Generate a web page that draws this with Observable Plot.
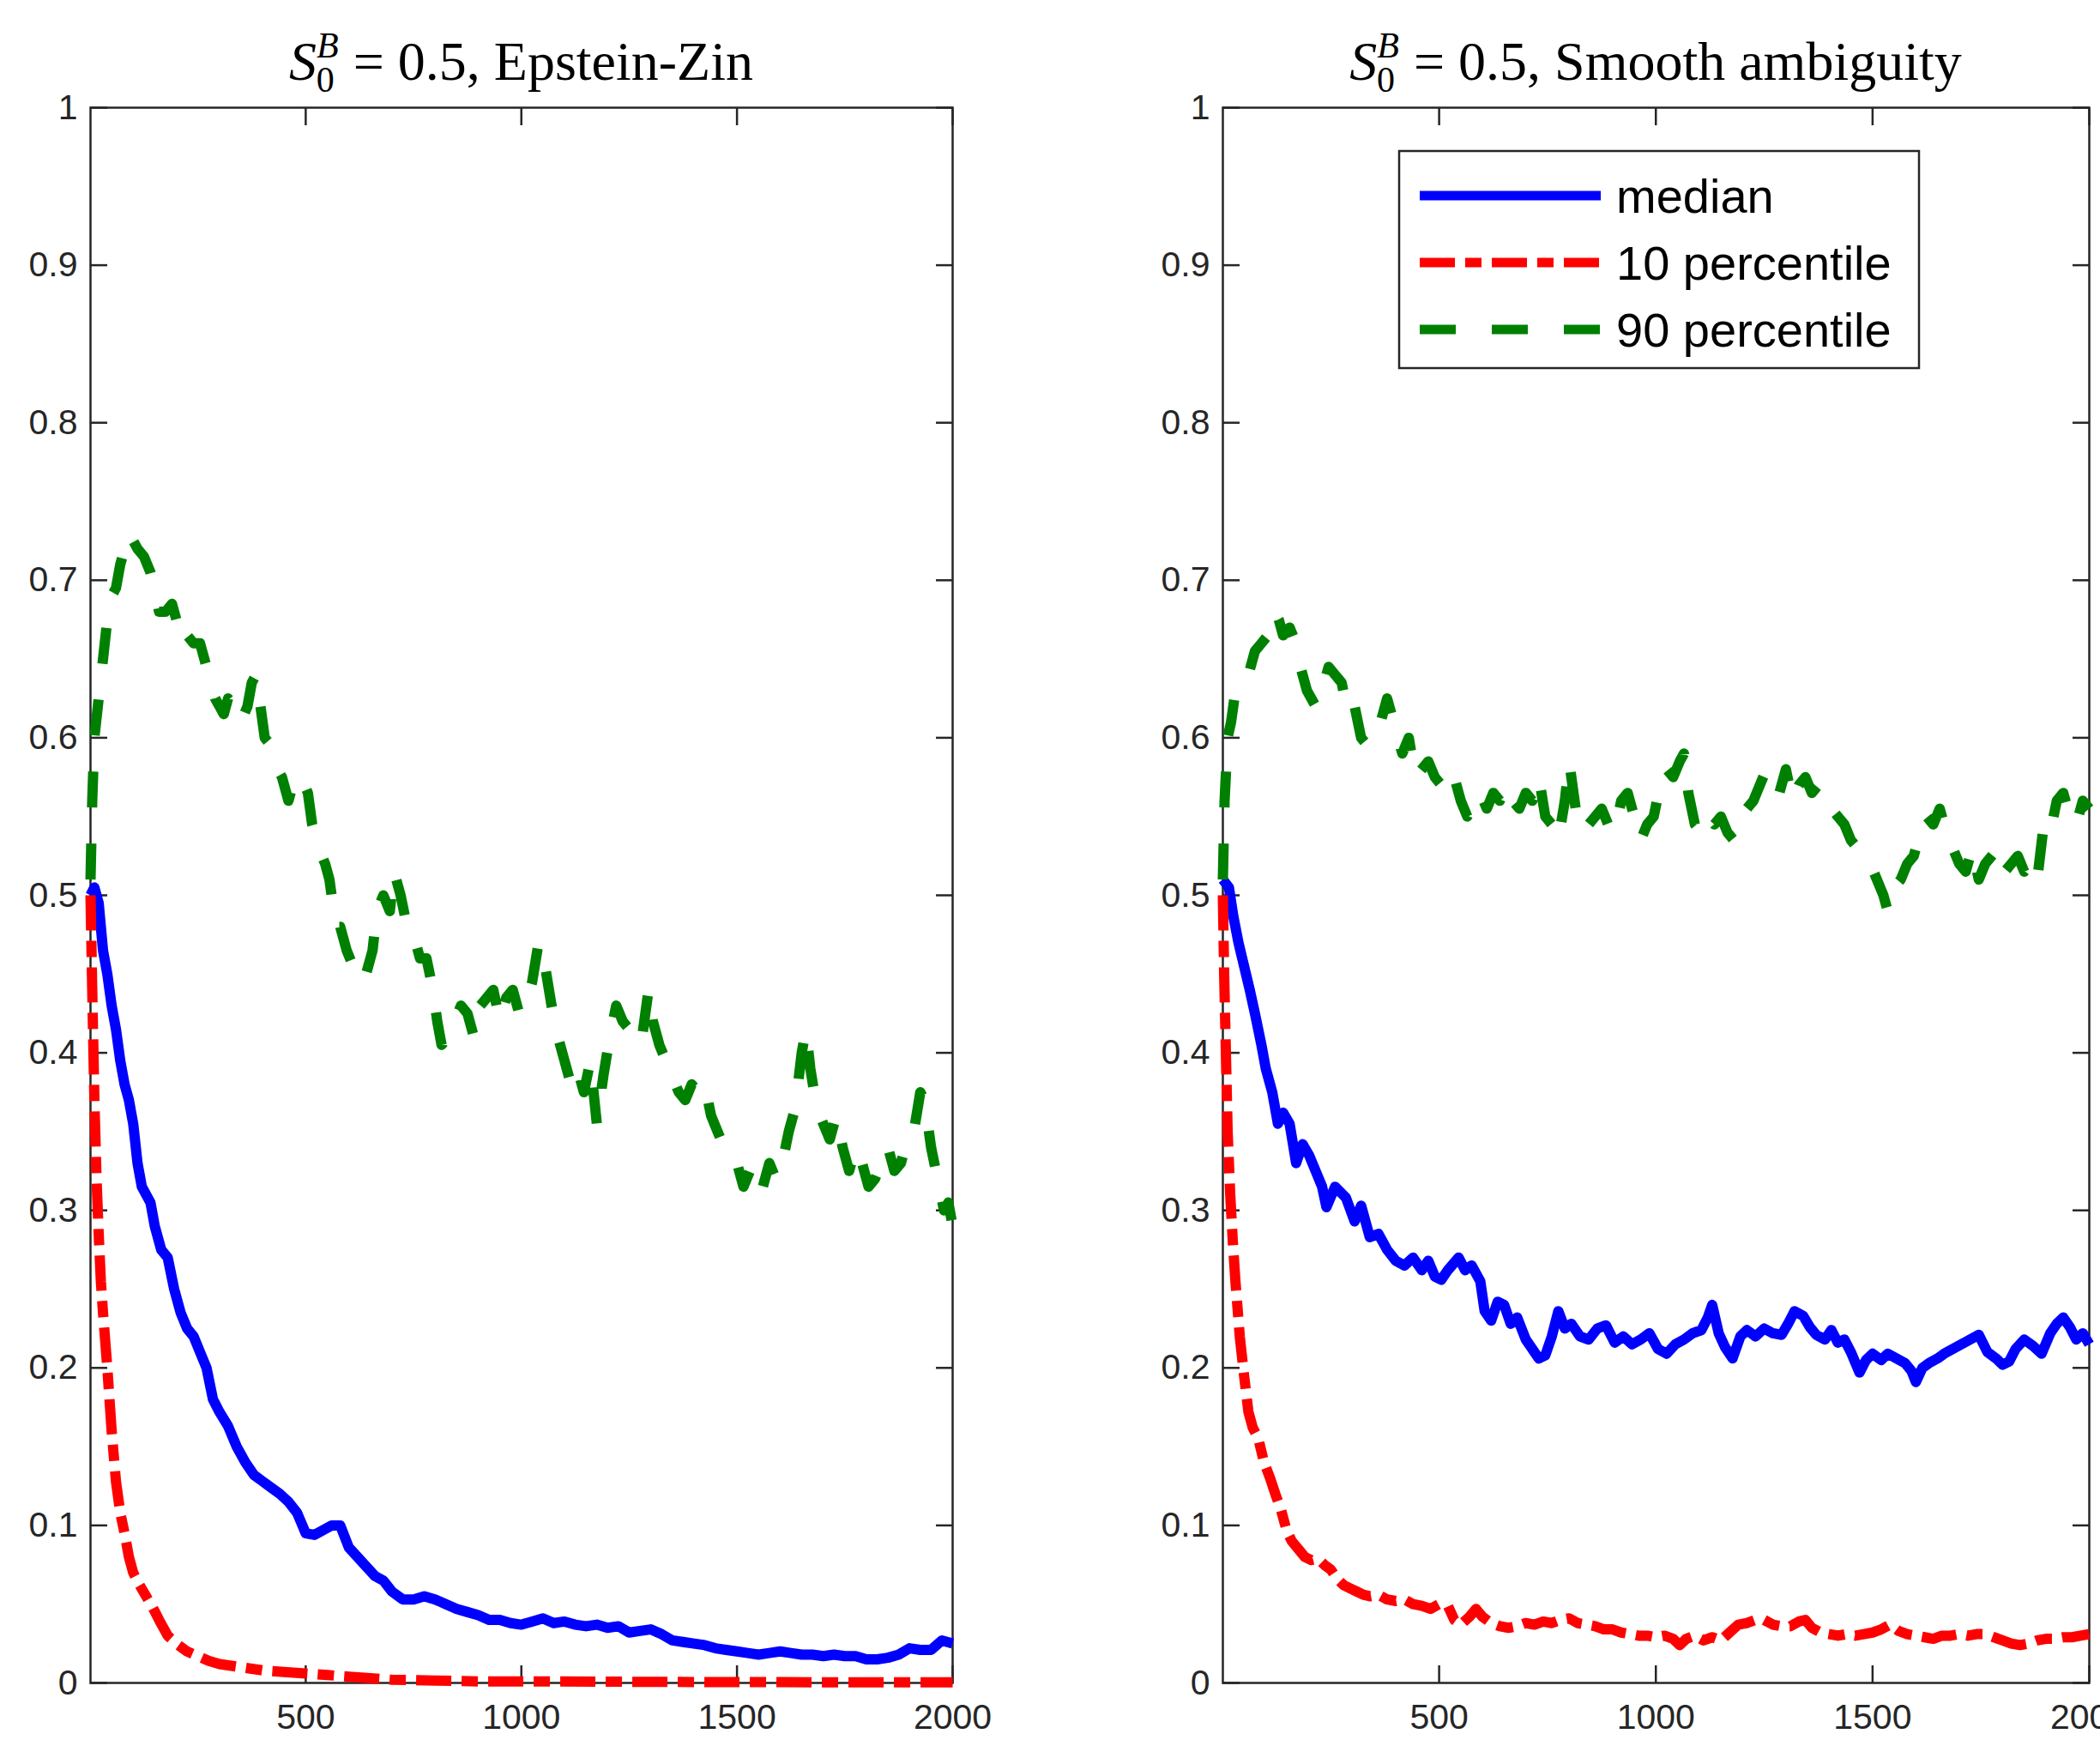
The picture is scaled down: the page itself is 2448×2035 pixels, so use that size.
<!DOCTYPE html>
<html><head><meta charset="utf-8">
<script src="https://cdn.jsdelivr.net/npm/d3@7"></script>
<script src="https://cdn.jsdelivr.net/npm/@observablehq/plot@0.6"></script>
<style>
html,body{margin:0;padding:0;background:#fff;width:2448px;height:2035px;overflow:hidden;}
#left,#right{position:absolute;top:0;}
#left{left:0;} #right{left:1224px;}
</style></head><body>
<div id="left"></div><div id="right"></div>
<script>
// ---- tick labels / categories ----
const xTicks = [500, 1000, 1500, 2000];
const yTicks = [0, 0.1, 0.2, 0.3, 0.4, 0.5, 0.6, 0.7, 0.8, 0.9, 1];
const titleRest = [" = 0.5, Epstein-Zin", " = 0.5, Smooth ambiguity"];
const legendLabels = ["median", "10 percentile", "90 percentile"];

// ---- Epstein-Zin panel: [period, value] ----
const ezMedian = [[1,0.50],[10,0.505],[20,0.495],[30,0.465],[40,0.45],[50,0.43],[60,0.415],[70,0.395],[80,0.38],[90,0.37],[100,0.355],[110,0.33],[120,0.315],[130,0.31],[140,0.305],[150,0.29],[165,0.275],[180,0.27],[195,0.25],[210,0.235],[225,0.225],[240,0.22],[255,0.21],[270,0.2],[285,0.18],[300,0.172],[320,0.163],[340,0.15],[360,0.14],[380,0.132],[400,0.128],[420,0.124],[440,0.12],[460,0.115],[480,0.108],[500,0.095],[520,0.094],[540,0.097],[560,0.1],[580,0.1],[600,0.086],[620,0.08],[640,0.074],[660,0.068],[680,0.065],[700,0.058],[725,0.053],[750,0.053],[775,0.055],[800,0.053],[825,0.05],[850,0.047],[875,0.045],[900,0.043],[925,0.04],[950,0.04],[975,0.038],[1000,0.037],[1025,0.039],[1050,0.041],[1075,0.038],[1100,0.039],[1125,0.037],[1150,0.036],[1175,0.037],[1200,0.035],[1225,0.036],[1250,0.032],[1275,0.033],[1300,0.034],[1325,0.031],[1350,0.027],[1375,0.026],[1400,0.025],[1425,0.024],[1450,0.022],[1475,0.021],[1500,0.02],[1525,0.019],[1550,0.018],[1575,0.019],[1600,0.02],[1625,0.019],[1650,0.018],[1675,0.018],[1700,0.017],[1725,0.018],[1750,0.017],[1775,0.017],[1800,0.015],[1825,0.015],[1850,0.016],[1875,0.018],[1900,0.022],[1925,0.021],[1950,0.021],[1975,0.027],[2000,0.025]];
const ezP10 = [[1,0.5],[5,0.44],[10,0.37],[15,0.32],[20,0.285],[25,0.255],[30,0.235],[40,0.2],[50,0.16],[60,0.128],[70,0.108],[80,0.095],[90,0.08],[100,0.07],[115,0.062],[130,0.055],[145,0.048],[160,0.04],[180,0.03],[200,0.025],[225,0.02],[250,0.017],[275,0.014],[300,0.012],[350,0.01],[400,0.008],[450,0.007],[500,0.006],[550,0.005],[600,0.004],[650,0.003],[700,0.002],[800,0.0015],[900,0.001],[1000,0.001],[1200,0.0008],[1400,0.0006],[1600,0.0005],[1800,0.0004],[2000,0.0004]];
const ezP90 = [[1,0.51],[5,0.56],[10,0.6],[20,0.625],[30,0.65],[40,0.675],[50,0.69],[60,0.695],[70,0.71],[80,0.72],[90,0.73],[100,0.725],[110,0.72],[125,0.715],[140,0.705],[150,0.695],[160,0.68],[175,0.68],[190,0.685],[200,0.675],[215,0.68],[225,0.665],[240,0.66],[255,0.66],[270,0.645],[280,0.635],[290,0.625],[300,0.62],[310,0.615],[320,0.625],[335,0.62],[350,0.61],[365,0.62],[375,0.635],[385,0.64],[395,0.62],[405,0.6],[420,0.595],[435,0.58],[445,0.575],[460,0.56],[475,0.575],[490,0.575],[505,0.565],[515,0.545],[530,0.53],[545,0.52],[555,0.51],[570,0.48],[580,0.48],[595,0.465],[610,0.455],[625,0.445],[640,0.45],[655,0.465],[665,0.49],[680,0.5],[695,0.49],[705,0.515],[720,0.5],[735,0.48],[750,0.475],[765,0.46],[780,0.46],[795,0.44],[805,0.42],[815,0.405],[830,0.41],[845,0.42],[860,0.43],[875,0.425],[890,0.41],[905,0.43],[920,0.435],[935,0.44],[950,0.42],[965,0.435],[980,0.44],[995,0.425],[1010,0.43],[1025,0.445],[1040,0.47],[1055,0.455],[1070,0.43],[1085,0.41],[1100,0.395],[1115,0.38],[1130,0.39],[1145,0.375],[1160,0.395],[1175,0.355],[1190,0.385],[1205,0.41],[1220,0.43],[1235,0.42],[1250,0.415],[1265,0.405],[1280,0.41],[1295,0.44],[1305,0.42],[1320,0.405],[1335,0.395],[1350,0.385],[1365,0.375],[1380,0.37],[1395,0.38],[1410,0.375],[1425,0.38],[1440,0.36],[1455,0.35],[1470,0.34],[1485,0.335],[1500,0.33],[1515,0.315],[1530,0.325],[1545,0.31],[1560,0.315],[1575,0.33],[1590,0.32],[1605,0.33],[1620,0.35],[1635,0.365],[1650,0.4],[1660,0.415],[1670,0.39],[1685,0.365],[1700,0.355],[1715,0.345],[1730,0.36],[1745,0.34],[1760,0.325],[1775,0.34],[1790,0.33],[1805,0.315],[1820,0.32],[1835,0.33],[1850,0.34],[1865,0.325],[1880,0.33],[1895,0.345],[1910,0.35],[1925,0.375],[1935,0.37],[1950,0.34],[1965,0.32],[1980,0.3],[1990,0.305],[2000,0.29]];

// ---- Smooth ambiguity panel: [period, value] ----
const saMedian = [[1,0.51],[15,0.505],[25,0.487],[37,0.47],[50,0.455],[63,0.44],[75,0.425],[90,0.405],[100,0.39],[115,0.375],[128,0.355],[140,0.362],[155,0.355],[170,0.33],[185,0.342],[200,0.335],[215,0.325],[230,0.315],[240,0.302],[260,0.315],[285,0.308],[305,0.293],[320,0.303],[340,0.283],[360,0.285],[380,0.275],[400,0.268],[420,0.265],[440,0.27],[460,0.262],[475,0.268],[490,0.258],[505,0.256],[520,0.262],[545,0.27],[560,0.262],[575,0.265],[595,0.255],[605,0.236],[620,0.23],[635,0.242],[650,0.24],[665,0.228],[680,0.232],[700,0.218],[715,0.212],[730,0.206],[745,0.208],[760,0.22],[775,0.236],[790,0.225],[805,0.228],[825,0.22],[845,0.218],[865,0.225],[885,0.227],[905,0.216],[925,0.22],[945,0.215],[965,0.218],[985,0.222],[1005,0.212],[1025,0.209],[1045,0.215],[1065,0.218],[1085,0.222],[1105,0.224],[1120,0.232],[1130,0.24],[1145,0.222],[1160,0.213],[1177,0.206],[1195,0.22],[1210,0.224],[1230,0.22],[1250,0.225],[1270,0.222],[1290,0.221],[1305,0.228],[1320,0.236],[1340,0.233],[1355,0.226],[1370,0.221],[1390,0.218],[1405,0.224],[1420,0.216],[1435,0.218],[1450,0.21],[1470,0.197],[1485,0.205],[1500,0.209],[1520,0.205],[1535,0.209],[1555,0.206],[1575,0.203],[1590,0.198],[1600,0.191],[1615,0.2],[1630,0.203],[1650,0.206],[1665,0.209],[1685,0.212],[1705,0.215],[1725,0.218],[1745,0.221],[1765,0.21],[1785,0.206],[1800,0.202],[1815,0.204],[1830,0.212],[1850,0.218],[1870,0.214],[1890,0.209],[1910,0.222],[1925,0.228],[1940,0.232],[1955,0.226],[1970,0.218],[1985,0.222],[2000,0.215]];
const saP10 = [[1,0.5],[4,0.45],[8,0.4],[12,0.35],[18,0.31],[24,0.28],[30,0.255],[40,0.22],[50,0.195],[60,0.172],[70,0.162],[83,0.155],[96,0.14],[110,0.13],[122,0.12],[135,0.11],[148,0.097],[160,0.09],[175,0.085],[190,0.08],[205,0.078],[220,0.079],[235,0.075],[250,0.072],[265,0.066],[280,0.062],[295,0.06],[310,0.058],[325,0.056],[340,0.055],[360,0.056],[380,0.053],[400,0.052],[420,0.053],[440,0.05],[460,0.049],[480,0.047],[500,0.05],[520,0.049],[535,0.04],[550,0.037],[570,0.042],[585,0.047],[600,0.042],[620,0.038],[640,0.036],[660,0.035],[680,0.036],[700,0.038],[720,0.037],[740,0.039],[760,0.038],[780,0.04],[800,0.041],[820,0.038],[840,0.037],[860,0.036],[880,0.034],[900,0.034],[920,0.032],[940,0.031],[960,0.03],[980,0.03],[1000,0.029],[1020,0.03],[1040,0.028],[1055,0.024],[1070,0.028],[1090,0.03],[1110,0.027],[1130,0.029],[1150,0.027],[1170,0.032],[1190,0.037],[1210,0.038],[1230,0.04],[1250,0.04],[1270,0.037],[1290,0.036],[1310,0.036],[1330,0.039],[1345,0.04],[1360,0.035],[1380,0.032],[1400,0.031],[1420,0.03],[1440,0.031],[1460,0.03],[1480,0.031],[1500,0.032],[1520,0.034],[1540,0.037],[1560,0.033],[1580,0.031],[1600,0.03],[1620,0.029],[1640,0.028],[1660,0.03],[1680,0.03],[1700,0.031],[1720,0.03],[1740,0.031],[1760,0.031],[1780,0.029],[1800,0.027],[1820,0.025],[1840,0.024],[1860,0.025],[1880,0.027],[1900,0.028],[1920,0.028],[1940,0.029],[1960,0.029],[1980,0.03],[2000,0.031]];
const saP90 = [[1,0.51],[5,0.56],[12,0.6],[20,0.61],[30,0.63],[45,0.635],[60,0.64],[75,0.655],[90,0.66],[105,0.665],[120,0.68],[130,0.675],[140,0.665],[155,0.67],[170,0.66],[180,0.645],[195,0.63],[205,0.625],[215,0.62],[230,0.63],[245,0.645],[260,0.64],[275,0.635],[290,0.615],[305,0.62],[320,0.6],[335,0.595],[350,0.6],[365,0.61],[380,0.625],[390,0.615],[400,0.605],[415,0.59],[430,0.6],[445,0.575],[460,0.58],[475,0.585],[490,0.575],[505,0.57],[520,0.565],[535,0.575],[550,0.56],[565,0.55],[580,0.56],[595,0.565],[610,0.555],[625,0.565],[640,0.56],[655,0.57],[670,0.56],[685,0.555],[700,0.565],[715,0.56],[730,0.575],[745,0.55],[760,0.545],[775,0.535],[790,0.56],[800,0.585],[815,0.555],[830,0.54],[845,0.545],[860,0.55],[875,0.555],[890,0.545],[905,0.54],[920,0.56],[935,0.565],[950,0.55],[965,0.535],[980,0.545],[995,0.55],[1010,0.57],[1025,0.58],[1040,0.575],[1055,0.585],[1065,0.59],[1075,0.565],[1090,0.545],[1105,0.54],[1120,0.55],[1135,0.545],[1150,0.55],[1165,0.54],[1180,0.535],[1195,0.545],[1210,0.555],[1225,0.56],[1240,0.57],[1255,0.58],[1270,0.575],[1285,0.565],[1300,0.58],[1315,0.56],[1330,0.57],[1345,0.575],[1360,0.565],[1375,0.57],[1390,0.56],[1405,0.555],[1420,0.55],[1435,0.545],[1450,0.535],[1465,0.53],[1480,0.525],[1495,0.52],[1510,0.51],[1525,0.5],[1535,0.49],[1550,0.505],[1565,0.51],[1580,0.52],[1595,0.525],[1610,0.54],[1625,0.55],[1640,0.545],[1655,0.555],[1670,0.54],[1685,0.53],[1700,0.52],[1715,0.515],[1730,0.53],[1745,0.51],[1760,0.52],[1775,0.525],[1790,0.53],[1805,0.515],[1820,0.52],[1835,0.525],[1850,0.515],[1865,0.52],[1880,0.51],[1895,0.545],[1910,0.54],[1925,0.56],[1940,0.565],[1955,0.55],[1970,0.545],[1985,0.56],[2000,0.555]];

// ---- styles ----
const AX = "#262626";
const LW = 12;
const styles = [
  {stroke: "#0000ff", strokeDasharray: null},
  {stroke: "#ff0000", strokeDasharray: "41,12,19,12"},
  {stroke: "#008000", strokeDasharray: "42,42"}
];

function panel(series, width, marginLeft, marginRight) {
  const marks = [
    Plot.axisX(xTicks, {anchor: "bottom", tickSize: 0, tickPadding: 24, label: null, fontSize: 41, fill: AX, tickFormat: d => String(d)}),
    Plot.axisX(xTicks, {anchor: "bottom", tickSize: -20, fill: "none", stroke: AX, strokeWidth: 2.5}),
    Plot.axisX(xTicks, {anchor: "top", tickSize: -20, fill: "none", stroke: AX, strokeWidth: 2.5}),
    Plot.axisY(yTicks, {anchor: "left", tickSize: 0, tickPadding: 15, label: null, fontSize: 41, fill: AX, tickFormat: d3.format("~g")}),
    Plot.axisY(yTicks, {anchor: "left", tickSize: -20, fill: "none", stroke: AX, strokeWidth: 2.5}),
    Plot.axisY(yTicks, {anchor: "right", tickSize: -20, fill: "none", stroke: AX, strokeWidth: 2.5}),
    Plot.frame({stroke: AX, strokeWidth: 2.5})
  ];
  series.forEach((s, i) => {
    marks.push(Plot.line(s, {x: d => d[0], y: d => d[1], stroke: styles[i].stroke,
      strokeWidth: LW, strokeLinejoin: "round", strokeLinecap: "butt",
      strokeDasharray: styles[i].strokeDasharray}));
  });
  return Plot.plot({
    width, height: 2035,
    marginLeft, marginRight, marginTop: 125, marginBottom: 74,
    x: {domain: [1, 2000]},
    y: {domain: [0, 1]},
    style: {fontFamily: "'Liberation Sans', Arial, Helvetica, sans-serif", fontSize: "41px",
      background: "white", color: AX, maxWidth: "none", overflow: "visible"},
    marks
  });
}

function addTitle(svg, cx, rest) {
  const t = d3.select(svg).append("text")
    .attr("x", cx).attr("y", 93).attr("text-anchor", "middle")
    .attr("font-family", "'Liberation Serif', 'Times New Roman', serif")
    .attr("font-size", 64).attr("fill", "#000");
  t.append("tspan").attr("font-style", "italic").text("S");
  t.append("tspan").attr("font-style", "italic").attr("font-size", 42).attr("dy", -26).text("B");
  t.append("tspan").attr("font-size", 42).attr("dx", -26).attr("dy", 40).text("0");
  t.append("tspan").attr("dx", 6).attr("dy", -14).text(rest);
}

function addLegend(svg, x0, y0, w, h) {
  const g = d3.select(svg).append("g");
  g.append("rect").attr("x", x0).attr("y", y0).attr("width", w).attr("height", h)
    .attr("fill", "white").attr("stroke", AX).attr("stroke-width", 2.5);
  const rows = [y0 + 52, y0 + 130, y0 + 208];
  legendLabels.forEach((lab, i) => {
    g.append("line").attr("x1", x0 + 24).attr("x2", x0 + 235).attr("y1", rows[i]).attr("y2", rows[i])
      .attr("stroke", styles[i].stroke).attr("stroke-width", 11)
      .attr("stroke-dasharray", styles[i].strokeDasharray);
    g.append("text").attr("x", x0 + 253).attr("y", rows[i] + 20)
      .attr("text-anchor", "start")
      .attr("font-family", "'Liberation Sans', Arial, Helvetica, sans-serif")
      .attr("font-size", 56).attr("fill", "#000").text(lab);
  });
}

const left = panel([ezMedian, ezP10, ezP90], 1224, 105, 114);
addTitle(left, 607.5, titleRest[0]);
document.getElementById("left").appendChild(left);

const right = panel([saMedian, saP10, saP90], 1224, 201, 13);
addTitle(right, 706, titleRest[1]);
addLegend(right, 407, 176, 606, 253);
document.getElementById("right").appendChild(right);
</script>
</body></html>
